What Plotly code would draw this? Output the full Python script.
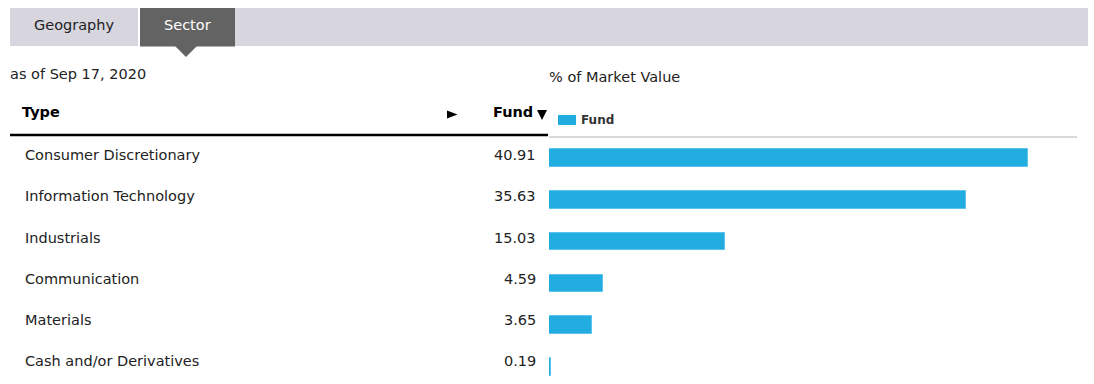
import plotly.graph_objects as go

W, H = 1094, 384

sectors = ["Consumer Discretionary", "Information Technology", "Industrials",
           "Communication", "Materials", "Cash and/or Derivatives"]
weights = [40.91, 35.63, 15.03, 4.59, 3.65, 0.19]
value_labels = ["40.91", "35.63", "15.03", "4.59", "3.65", "0.19"]
tabs = ["Geography", "Sector"]
as_of = "as of Sep 17, 2020"

FONT = "DejaVu Sans"
BLUE = "#22ade1"

def px(x):
    return x / W

def py(y):
    return 1 - y / H

fig = go.Figure()
fig.add_trace(go.Bar(
    x=weights, y=list(range(len(sectors))), orientation="h",
    marker=dict(color=BLUE, line=dict(color="#5cc4ec", width=1)),
    width=0.42, name="Fund", showlegend=False, hoverinfo="skip",
))

shapes = []
# tab bar
shapes.append(dict(type="rect", xref="paper", yref="paper", x0=px(10), x1=px(1088),
                   y0=py(46), y1=py(8), fillcolor="#d7d6df", line=dict(width=0), layer="below"))
shapes.append(dict(type="line", xref="paper", yref="paper", x0=px(139), x1=px(139),
                   y0=py(46), y1=py(8), line=dict(color="white", width=2)))
shapes.append(dict(type="rect", xref="paper", yref="paper", x0=px(140), x1=px(235),
                   y0=py(46.5), y1=py(8), fillcolor="#636363", line=dict(width=0)))
shapes.append(dict(type="path", xref="paper", yref="paper",
                   path=f"M {px(175)},{py(46)} L {px(197)},{py(46)} L {px(186)},{py(57)} Z",
                   fillcolor="#636363", line=dict(width=0)))
# header lines
shapes.append(dict(type="line", xref="paper", yref="paper", x0=px(10), x1=px(548),
                   y0=py(135), y1=py(135), line=dict(color="#000000", width=2.5)))
shapes.append(dict(type="line", xref="paper", yref="paper", x0=px(549), x1=px(1077),
                   y0=py(137), y1=py(137), line=dict(color="#cccccc", width=1.5)))
# sort arrows
shapes.append(dict(type="path", xref="paper", yref="paper",
                   path=f"M {px(447)},{py(110.5)} L {px(457.5)},{py(114.5)} L {px(447)},{py(118.5)} Z",
                   fillcolor="#000000", line=dict(width=0)))
shapes.append(dict(type="path", xref="paper", yref="paper",
                   path=f"M {px(537)},{py(110)} L {px(547)},{py(110)} L {px(542)},{py(120)} Z",
                   fillcolor="#000000", line=dict(width=0)))
# legend swatch
shapes.append(dict(type="rect", xref="paper", yref="paper", x0=px(558), x1=px(576),
                   y0=py(125), y1=py(115), fillcolor=BLUE, line=dict(width=0)))

ann = []
def text(x, y, t, size=14.5, color="#222222", anchor="left", bold=False, yref="paper", yshift=0):
    ann.append(dict(xref="paper", yref=yref, x=px(x), y=(py(y) if yref == "paper" else y),
                    text=(f"<b>{t}</b>" if bold else t), showarrow=False,
                    xanchor=anchor, yanchor="middle", yshift=yshift,
                    font=dict(family=FONT, size=size, color=color)))

text(74.5, 25, tabs[0], anchor="center")
text(187.5, 25, tabs[1], anchor="center", color="#ffffff")
text(8, 74, as_of)
text(547, 77, "% of Market Value")
text(20, 112, "Type", bold=True, color="#000000")
text(535, 112, "Fund", bold=True, anchor="right", color="#000000")
text(579, 120, "Fund", size=12, bold=True, color="#333333")

for i, (s, v) in enumerate(zip(sectors, value_labels)):
    text(23, i, s, yref="y", yshift=3 + 0.5 * i)
    text(538, i, v, anchor="right", yref="y", yshift=3 + 0.5 * i)

fig.update_layout(
    width=W, height=H, margin=dict(l=0, r=0, t=0, b=0),
    paper_bgcolor="white", plot_bgcolor="white",
    xaxis=dict(domain=[px(549), px(1077)], range=[0, 45.1], visible=False, fixedrange=True),
    yaxis=dict(domain=[0, py(137)], range=[5.407, -0.502], visible=False, fixedrange=True),
    shapes=shapes, annotations=ann, bargap=0,
)

fig.write_html("out.html", config={"displayModeBar": False},
               post_script="document.body.style.margin='0';document.body.style.overflow='hidden';")
